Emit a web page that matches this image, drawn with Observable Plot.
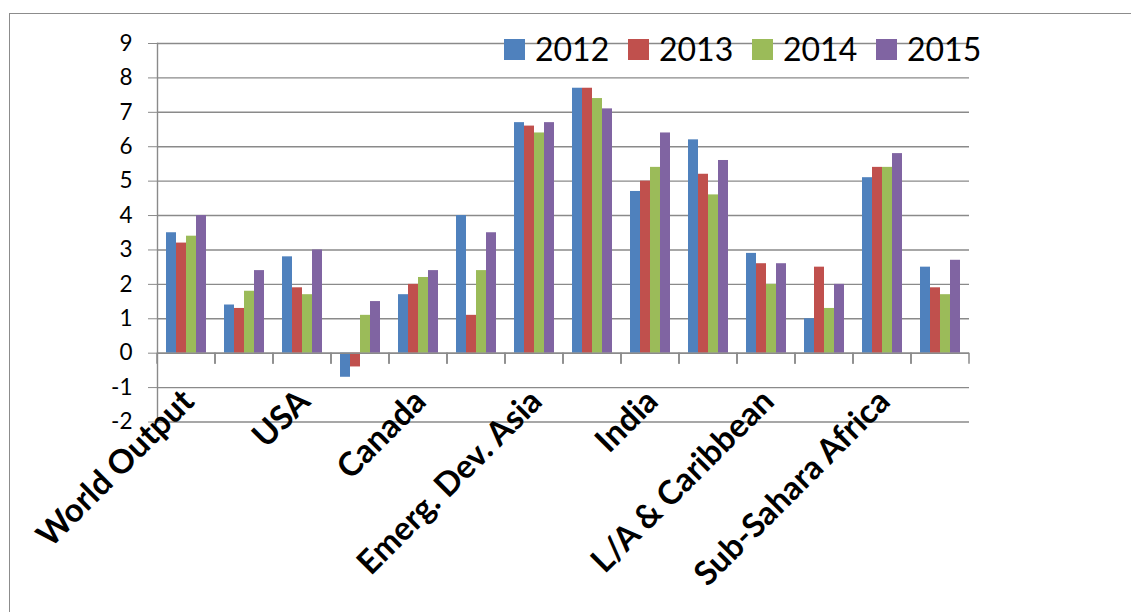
<!DOCTYPE html>
<html>
<head>
<meta charset="utf-8">
<script src="https://cdn.jsdelivr.net/npm/d3@7"></script>
<script src="https://cdn.jsdelivr.net/npm/@observablehq/plot@0.6"></script>
<style>
  html, body { margin: 0; padding: 0; background: #fff; overflow: hidden; }
  #wrap { position: relative; width: 1131px; height: 612px; font-family: Lato, "Open Sans", sans-serif; }
  #border { position: absolute; left: 9px; top: 13px; width: 1300px; height: 800px;
            border: 1.5px solid #8c8c8c; pointer-events: none; z-index: 2; }
  #legend { position: absolute; left: 504px; top: 33px; display: flex; align-items: center;
            z-index: 3; font-size: 32px; line-height: 32px; color: #000; }
  #legend .item { display: flex; align-items: center; width: 124px; white-space: nowrap; }
  #legend .item:last-child { width: auto; }
  #legend .sw { width: 21px; height: 21px; margin-right: 10px; flex: none; }
</style>
</head>
<body>
<div id="wrap">
  <div id="chart"></div>
  <div id="legend"></div>
  <div id="border"></div>
</div>
<script>
// ---- data ----
const categories = ["World Output", "Advanced Economies", "USA", "Euro Area", "Canada", "Mexico",
  "Emerg. Dev. Asia", "China", "India", "ASEAN-5", "L/A & Caribbean", "Brazil",
  "Sub-Sahara Africa", "South Africa"];
const shownLabels = ["World Output", "USA", "Canada", "Emerg. Dev. Asia", "India",
  "L/A & Caribbean", "Sub-Sahara Africa"];
const years = ["2012", "2013", "2014", "2015"];
const values2012 = [3.5, 1.4, 2.8, -0.7, 1.7, 4.0, 6.7, 7.7, 4.7, 6.2, 2.9, 1.0, 5.1, 2.5];
const values2013 = [3.2, 1.3, 1.9, -0.4, 2.0, 1.1, 6.6, 7.7, 5.0, 5.2, 2.6, 2.5, 5.4, 1.9];
const values2014 = [3.4, 1.8, 1.7, 1.1, 2.2, 2.4, 6.4, 7.4, 5.4, 4.6, 2.0, 1.3, 5.4, 1.7];
const values2015 = [4.0, 2.4, 3.0, 1.5, 2.4, 3.5, 6.7, 7.1, 6.4, 5.6, 2.6, 2.0, 5.8, 2.7];
const yTicks = [-2, -1, 0, 1, 2, 3, 4, 5, 6, 7, 8, 9];
const colors = ["#4F81BD", "#C0504D", "#9BBB59", "#8064A2"];

const series = [values2012, values2013, values2014, values2015];
const data = categories.flatMap((c, i) =>
  years.map((y, j) => ({category: c, year: y, value: series[j][i]})));

const GRID = "#8a8a8a";

// category boundary ticks below the zero line (one pair per facet)
function boundaryTicks(index, scales) {
  const [a, b] = scales.x.range();
  const y0 = scales.y(0);
  const g = d3.create("svg:g").attr("stroke", GRID).attr("stroke-width", 1.5);
  for (const x of [a, b]) {
    g.append("line").attr("x1", x).attr("x2", x).attr("y1", y0).attr("y2", y0 + 11);
  }
  return g.node();
}

const chart = Plot.plot({
  width: 1131,
  height: 612,
  marginLeft: 157,
  marginRight: 162,
  marginTop: 43,
  marginBottom: 190.5,
  style: {fontFamily: "Lato, 'Open Sans', sans-serif", color: "#000", background: "#fff"},
  fx: {domain: categories, padding: 0, axis: null, label: null},
  x: {domain: years, paddingInner: 0, paddingOuter: 0.83, axis: null},
  y: {domain: [-2, 9], axis: null},
  color: {domain: years, range: colors},
  marks: [
    Plot.ruleY(yTicks, {stroke: GRID, strokeWidth: 1.4}),
    Plot.barY(data, {fx: "category", x: "year", y: "value", fill: "year"}),
    Plot.ruleY([0], {stroke: GRID, strokeWidth: 1.4}),
    boundaryTicks,
    Plot.frame({anchor: "left", facetAnchor: "left", stroke: GRID, strokeWidth: 1.4}),
    Plot.axisY({ticks: yTicks, tickFormat: (d) => String(d), tickSize: 9, tickPadding: 16,
      fontSize: 22.5, stroke: GRID, fill: "#000", label: null}),
    Plot.axisFx({anchor: "bottom", ticks: shownLabels, tickSize: 0, tickRotate: -45, fontSize: 33,
      fontWeight: "bold", fill: "#000", label: null, dx: 2, dy: -38})
  ]
});
document.getElementById("chart").appendChild(chart);

// legend
const legend = document.getElementById("legend");
years.forEach((y, i) => {
  const item = document.createElement("div");
  item.className = "item";
  const sw = document.createElement("span");
  sw.className = "sw";
  sw.style.background = colors[i];
  const t = document.createElement("span");
  t.textContent = y;
  item.appendChild(sw);
  item.appendChild(t);
  legend.appendChild(item);
});
</script>
</body>
</html>
